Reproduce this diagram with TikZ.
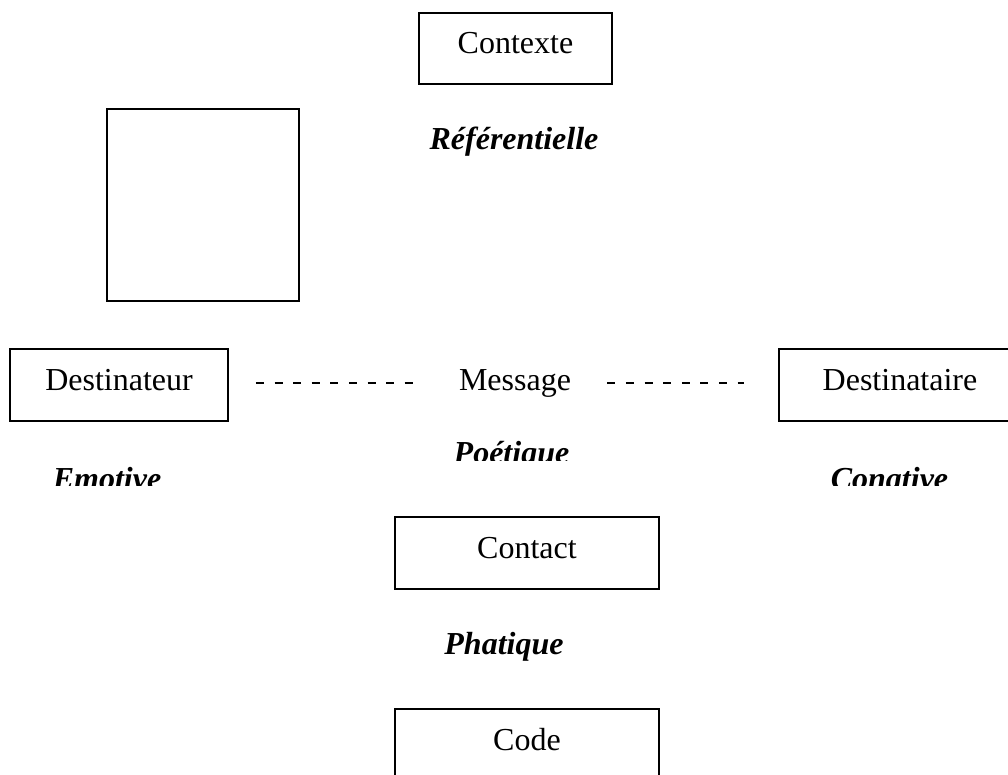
\documentclass[tikz,border=0pt]{standalone}
\usepackage{fontspec}
\setmainfont{Liberation Serif}
\newcommand{\taille}{\fontsize{16pt}{19pt}\selectfont}
\begin{document}
\begin{tikzpicture}[x=0.5pt,y=-0.5pt,
    cadre/.style={draw,line width=0.9pt,inner sep=0pt,font=\taille,
      text height=0.68em,text depth=0.14em},
    mot/.style={inner sep=0pt,font=\taille,text height=0.68em,text depth=0.14em},
    fonction/.style={inner sep=0pt,anchor=base,font=\taille\bfseries\itshape},
    tirets/.style={line width=1.3pt,dash pattern=on 4pt off 5.3pt}]
  \useasboundingbox (0,0) rectangle (1008,775);
  \clip (0,0) rectangle (1008,775);
  % les cases
  \node[cadre,minimum width=96.5pt,minimum height=35.5pt](contexte) at (515.5,48.5){Contexte};
  \node[cadre,minimum width=96pt,minimum height=96pt](vide) at (203,205){};
  \node[cadre,minimum width=109pt,minimum height=36pt](destinateur) at (119,385){Destinateur};
  \node[mot](message) at (515,385){Message};
  \node[cadre,minimum width=121pt,minimum height=36pt](destinataire) at (900,385){Destinataire};
  \node[cadre,minimum width=132pt,minimum height=36pt](contact) at (527,553){Contact};
  \node[cadre,minimum width=132pt,minimum height=36pt](code) at (527,745){Code};
  % les tirets
  \draw[tirets] ([shift={(27,-2)}]destinateur.east) -- ([shift={(-46,-2)}]message.west);
  \draw[tirets] ([shift={(36,-2)}]message.east) -- ([shift={(-34,-2)}]destinataire.west);
  % les fonctions
  \node[fonction](referentielle) at (514,150){Référentielle};
  \begin{scope}
    \clip (0,0) rectangle (1008,461);
    \node[fonction](poetique) at (511.5,464){Poétique};
  \end{scope}
  \begin{scope}
    \clip (0,0) rectangle (1008,486);
    \node[fonction](emotive) at (107,490){Emotive};
    \node[fonction](conative) at (889.5,490){Conative};
  \end{scope}
  \node[fonction](phatique) at (504,654){Phatique};
\end{tikzpicture}
\end{document}
